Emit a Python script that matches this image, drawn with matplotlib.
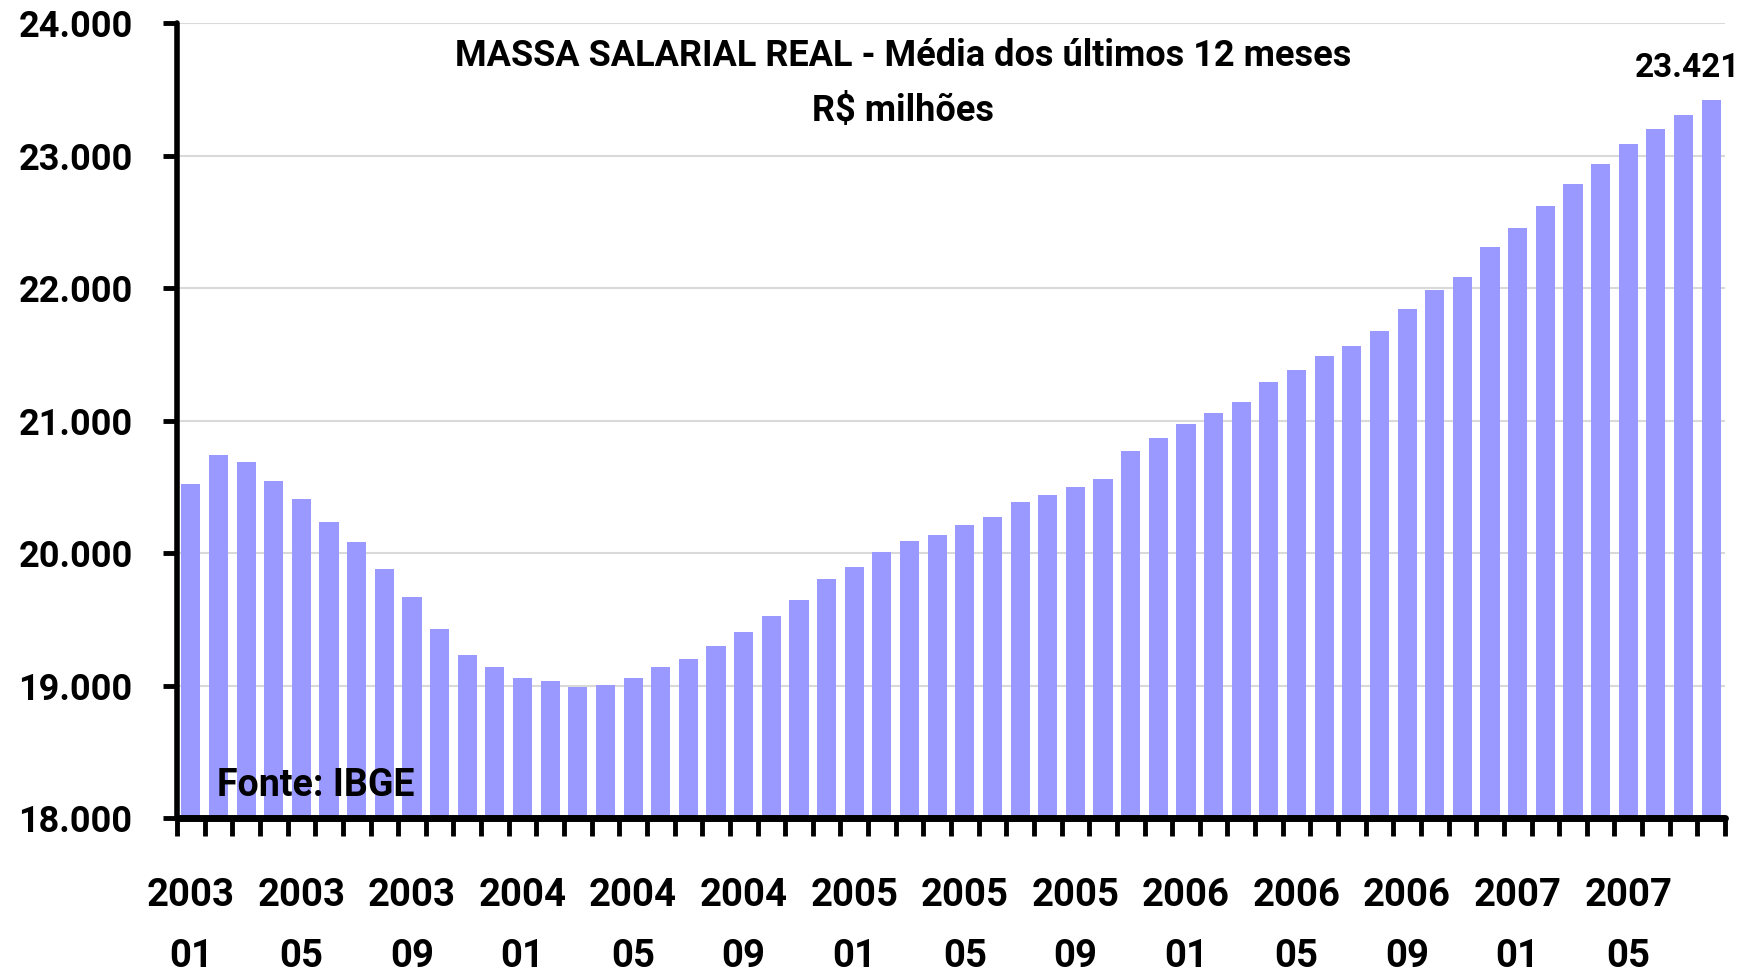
import numpy as np
import matplotlib.pyplot as plt
from matplotlib import font_manager
from matplotlib.transforms import blended_transform_factory

# Massa salarial real - média móvel de 12 meses (R$ milhões), jan/2003 a ago/2007
anos = [2003] * 12 + [2004] * 12 + [2005] * 12 + [2006] * 12 + [2007] * 8
meses = list(range(1, 13)) * 4 + list(range(1, 9))
massa = [20517, 20743, 20685, 20542, 20408, 20232, 20081, 19879, 19669, 19426,
         19233, 19141, 19057, 19032, 18990, 19007, 19057, 19141, 19200, 19300,
         19401, 19527, 19644, 19804, 19896, 20005, 20089, 20139, 20215, 20273,
         20383, 20441, 20500, 20559, 20768, 20869, 20970, 21054, 21138, 21289,
         21381, 21490, 21566, 21674, 21842, 21985, 22086, 22312, 22455, 22622,
         22782, 22933, 23084, 23201, 23302, 23421]
yticks = [18000, 19000, 20000, 21000, 22000, 23000, 24000]

instaladas = {f.name for f in font_manager.fontManager.ttflist}
familia = [f for f in ['Liberation Sans Narrow', 'Roboto', 'Liberation Sans', 'DejaVu Sans'] if f in instaladas]
plt.rcParams['font.family'] = familia
plt.rcParams['font.weight'] = 'bold'

fig = plt.figure(figsize=(17.51, 9.72), dpi=100)
ax = fig.add_axes([177 / 1751, 1 - 818 / 972, (1725 - 177) / 1751, (818 - 23) / 972])

x = np.arange(len(massa))
ax.bar(x, massa, width=0.69, color='#9999FF', zorder=2)

ax.set_xlim(-0.5, len(massa) - 0.5)
ax.set_ylim(18000, 24000)
ax.set_yticks(yticks)
ax.set_yticklabels([f'{v:,}'.replace(',', '.') for v in yticks], fontsize=26, fontweight='bold')
ax.grid(axis='y', color='#d9d9d9', linewidth=1.5, zorder=0)

# ticks nas fronteiras entre as barras
ax.set_xticks(np.arange(len(massa) + 1) - 0.5)
ax.set_xticklabels([])
ax.tick_params(axis='x', length=13, width=3.5, color='black', direction='out')
ax.tick_params(axis='y', length=10, width=3.5, color='black', direction='out', pad=22)

for lado in ['top', 'right']:
    ax.spines[lado].set_visible(False)
ax.spines['left'].set_linewidth(4)
ax.spines['bottom'].set_linewidth(5)
ax.spines['left'].set_capstyle('round')
ax.spines['bottom'].set_capstyle('round')

trans = blended_transform_factory(ax.transData, fig.transFigure)
for i in range(0, len(massa), 4):
    ax.text(i, 1 - 895 / 972, str(anos[i]), transform=trans, ha='center', va='center',
            fontsize=27.5, fontweight='bold')
    ax.text(i, 1 - 956 / 972, f'{meses[i]:02d}', transform=trans, ha='center', va='center',
            fontsize=27.5, fontweight='bold')

fig.text(903 / 1751, 1 - 56 / 972, 'MASSA SALARIAL REAL - Média dos últimos 12 meses',
         ha='center', va='center', fontsize=26, fontweight='bold')
fig.text(903 / 1751, 1 - 111 / 972, 'R$ milhões', ha='center', va='center',
         fontsize=26, fontweight='bold')

ax.text(x[-1] + 1.05, massa[-1] + 120, f'{massa[-1]:,}'.replace(',', '.'),
        ha='right', va='bottom', fontsize=24, fontweight='bold')
fig.text(217 / 1751, 1 - 785 / 972, 'Fonte: IBGE', ha='left', va='center',
         fontsize=27, fontweight='bold')

fig.savefig('out.png', dpi=100)
